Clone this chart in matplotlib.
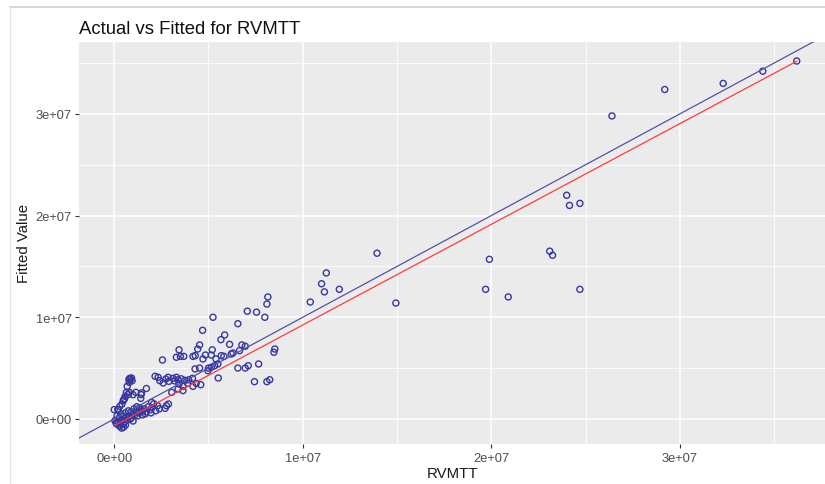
import numpy as np
import matplotlib
matplotlib.use("Agg")
import matplotlib.pyplot as plt
from matplotlib.lines import Line2D

# ---- data (values in millions, converted below) ----
actual_m = [
    26.4, 29.2, 32.3, 34.4, 36.2,
    24.0, 24.15, 24.7, 23.1, 23.25,
    19.9, 19.7, 20.9, 24.7,
    13.94, 14.94, 11.25, 11.0, 11.15, 11.94, 10.4,
    8.15, 8.1, 7.06, 7.55, 7.99, 5.24, 6.56, 4.69,
    5.86, 5.66, 6.12, 4.53, 4.43, 5.2, 3.44, 6.77, 6.95,
    8.52, 8.47, 2.56, 3.3, 3.51, 3.69, 4.18, 4.3, 4.71, 4.84, 5.15, 5.68, 5.82, 6.21, 6.3, 6.65,
    6.56, 6.95, 7.11, 7.66,
    7.44, 8.1, 8.25, 5.52, 4.59,
    4.29, 4.53, 4.97, 5.15, 5.33, 5.5, 5.0, 5.4,
    2.17, 2.42, 2.6, 2.74, 2.86, 3.12, 3.3, 3.39, 3.55, 3.75, 3.95, 4.15, 3.44, 3.65, 3.39, 3.65,
    4.18, 3.05, 3.9, 4.35, 2.33, 2.9, 3.2,
    2.7, 2.88, 2.77, 2.3, 1.98, 2.1,
    0.92, 0.87, 0.8, 0.69, 0.65, 0.58, 0.51, 0.41, 0.3, 0.75, 0.83, 0.95, 0.78,
    1.71, 1.43, 1.41, 1.0, 1.15, 1.45, 0.8, 0.48, 0.55,
    0.0, 0.19, 0.22, 0.04, 0.13, 0.3, 0.48, 0.2, 0.35, 0.5, 0.6, 0.4, 0.55, 0.7, 0.65, 0.8,
    0.9, 1.0, 1.1, 1.2, 1.3, 1.4, 1.5, 1.6, 1.7, 1.8, 1.9, 2.0, 0.45, 0.6, 0.75, 0.9, 1.05,
    1.2, 1.35, 0.35, 0.25, 0.15, 1.0, 0.85, 1.25, 1.5, 1.65, 1.95, 2.2, 2.4, 0.1, 0.28, 0.45,
]
fitted_m = [
    29.8, 32.4, 33.0, 34.2, 35.2,
    22.0, 21.0, 21.2, 16.5, 16.1,
    15.7, 12.75, 12.0, 12.75,
    16.3, 11.4, 14.36, 13.3, 12.5, 12.75, 11.5,
    12.0, 11.3, 10.6, 10.5, 10.0, 10.0, 9.37, 8.72,
    8.26, 7.8, 7.34, 7.28, 6.88, 6.8, 6.8, 7.28, 7.15,
    6.88, 6.56, 5.8, 6.07, 6.16, 6.16, 6.16, 6.23, 5.9, 6.29, 6.29, 6.23, 6.16, 6.39, 6.49, 6.72,
    5.01, 5.01, 5.24, 5.41,
    3.67, 3.67, 3.86, 4.03, 3.37,
    4.92, 5.01, 4.75, 5.08, 5.24, 5.41, 5.0, 5.9,
    4.2, 3.77, 3.54, 3.93, 4.1, 4.0, 4.1, 3.86, 3.95, 3.8, 3.85, 4.0, 3.44, 3.21, 2.95, 2.79,
    3.21, 2.62, 3.5, 3.5, 4.1, 3.7, 3.75,
    1.05, 1.47, 1.31, 1.3, 1.64, 1.5,
    4.03, 3.87, 3.6, 3.21, 2.62, 2.23, 1.9, 1.47, 1.25, 2.4, 4.0, 3.75, 3.9,
    3.0, 2.39, 2.03, 2.39, 2.62, 2.56, 2.62, 1.8, 2.0,
    0.92, 0.92, 0.92, -0.16, -0.5, -0.66, -0.49, -0.3, -0.2, -0.8, -0.6, -0.9, -0.3, -0.1, 0.2, 0.3,
    0.1, 0.5, 0.4, 0.7, 0.6, 0.9, 0.8, 1.0, 0.7, 1.2, 0.9, 1.1, 0.3, 0.6, 0.8, 0.7, 1.0,
    1.2, 1.1, 0.5, 0.1, 0.3, -0.2, 0.0, 0.3, 0.4, 0.5, 0.6, 0.8, 1.0, -0.4, -0.7, -0.1,
]
actual = np.array(actual_m) * 1e6
fitted = np.array(fitted_m) * 1e6

# fitted regression line
fit_intercept = -0.66e6
fit_slope = 0.99
# reference line y = x
ref_intercept = 0.0
ref_slope = 1.0

x_ticks = [0, 1e7, 2e7, 3e7]
x_tick_labels = ["0e+00", "1e+07", "2e+07", "3e+07"]
y_ticks = [0, 1e7, 2e7, 3e7]
y_tick_labels = ["0e+00", "1e+07", "2e+07", "3e+07"]

title = "Actual vs Fitted for RVMTT"
x_label = "RVMTT"
y_label = "Fitted Value"

# ---- figure ----
plt.rcParams['font.family'] = ['Liberation Sans', 'DejaVu Sans']
fig = plt.figure(figsize=(8.25, 4.85), dpi=100)
ax = fig.add_axes([79.3 / 825, 1 - 445 / 485, 1 - 79.3 / 825, (445 - 42.7) / 485])
ax.set_facecolor('#EBEBEB')
for s in ax.spines.values():
    s.set_visible(False)

xlim = (-1.85e6, 37.7e6)
ylim = (-2.46e6, 37.1e6)
ax.set_xlim(*xlim)
ax.set_ylim(*ylim)

# grid
for v in [5e6, 15e6, 25e6, 35e6]:
    ax.axvline(v, color='white', lw=0.6, zorder=0)
    ax.axhline(v, color='white', lw=0.6, zorder=0)
for v in x_ticks:
    ax.axvline(v, color='white', lw=1.1, zorder=0)
for v in y_ticks:
    ax.axhline(v, color='white', lw=1.1, zorder=0)

ax.scatter(actual, fitted, s=19, facecolors='none', edgecolors='#3737A0',
           linewidths=1.0, zorder=3)

# reference line across the panel
xr = np.array(xlim)
ax.plot(xr, ref_intercept + ref_slope * xr, color='#5252A8', lw=0.9, zorder=4)
# fitted line across data range
xf = np.array([actual.min(), actual.max()])
ax.plot(xf, fit_intercept + fit_slope * xf, color='#FF3B3B', lw=0.9, zorder=4)

ax.set_xticks(x_ticks)
ax.set_xticklabels(x_tick_labels)
ax.set_yticks(y_ticks)
ax.set_yticklabels(y_tick_labels)
ax.tick_params(axis='both', colors='#333333', length=3, width=0.8,
               labelsize=9.3, labelcolor='#4D4D4D', pad=2.5)

ax.set_xlabel(x_label, fontsize=10.8, color='#1A1A1A', labelpad=2)
ax.set_ylabel(y_label, fontsize=10.8, color='#1A1A1A', labelpad=3)
ax.set_title(title, fontsize=13.3, color='#111111', loc='left', pad=6)

# screenshot frame lines
fig.add_artist(Line2D([10 / 825, 1], [1 - 8 / 485, 1 - 8 / 485],
                      transform=fig.transFigure, color='#D0D0D0', lw=1.2))
fig.add_artist(Line2D([10 / 825, 10 / 825], [0, 1 - 8 / 485],
                      transform=fig.transFigure, color='#E4E4E4', lw=1.0))

fig.savefig('out.png', dpi=100)
